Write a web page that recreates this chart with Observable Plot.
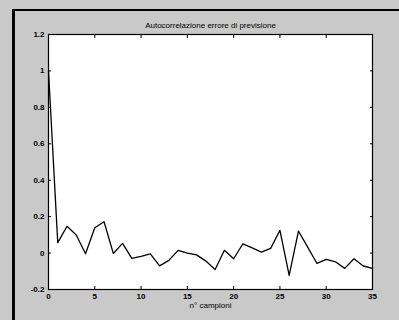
<!DOCTYPE html>
<html>
<head>
<meta charset="utf-8">
<script src="https://cdn.jsdelivr.net/npm/d3@7"></script>
<script src="https://cdn.jsdelivr.net/npm/@observablehq/plot@0.6"></script>
<style>
  html, body { margin: 0; padding: 0; }
  body {
    width: 399px; height: 320px; overflow: hidden; position: relative;
    background: #c9c9c9;
  }
  #frame {
    position: absolute; left: 12px; top: 9px; width: 387px; height: 311px;
    border-left: 3px solid #000; border-top: 2px solid #000; box-sizing: border-box;
  }
  #chart { position: absolute; left: 0; top: 0; }
  #chart svg { background: transparent !important; }
</style>
</head>
<body>
<div id="frame"></div>
<div id="chart"></div>
<script>
const title = "Autocorrelazione errore di previsione";
const xLabel = "n° campioni";
const lags = d3.range(0, 36);
const acf = [1.0, 0.057, 0.147, 0.099, -0.004, 0.139, 0.172, -0.002, 0.053, -0.029,
             -0.018, -0.004, -0.07, -0.04, 0.015, 0.0, -0.01, -0.044, -0.09, 0.015,
             -0.031, 0.051, 0.029, 0.005, 0.026, 0.125, -0.123, 0.121, 0.033, -0.057,
             -0.035, -0.048, -0.084, -0.031, -0.071, -0.084];
const xTicks = [0, 5, 10, 15, 20, 25, 30, 35];
const yTicks = [-0.2, 0, 0.2, 0.4, 0.6, 0.8, 1, 1.2];
const data = lags.map((l, i) => ({lag: l, r: acf[i]}));

const fontFam = "'Liberation Sans', Arial, sans-serif";
const plot = Plot.plot({
  width: 399, height: 320,
  marginLeft: 48, marginRight: 27, marginTop: 34, marginBottom: 31,
  style: {background: "transparent", fontFamily: fontFam, fontSize: "8px", color: "#000"},
  x: {domain: [0, 35], ticks: xTicks, label: null},
  y: {domain: [-0.2, 1.2], ticks: yTicks, label: null},
  marks: [
    Plot.frame({fill: "white", stroke: "none"}),
    Plot.line(data, {x: "lag", y: "r", stroke: "#000", strokeWidth: 1.3}),
    Plot.axisX({anchor: "bottom", ticks: xTicks, tickSize: -3, tickPadding: 7, tickFormat: d => String(d), fontSize: 8, fontWeight: "bold"}),
    Plot.axisX({anchor: "top", ticks: xTicks, tickSize: -3, tickFormat: () => ""}),
    Plot.axisY({anchor: "left", ticks: yTicks, tickSize: -3, tickPadding: 7, tickFormat: d => String(d), fontSize: 8, fontWeight: "bold"}),
    Plot.axisY({anchor: "right", ticks: yTicks, tickSize: -3, tickFormat: () => ""}),
    Plot.frame({stroke: "#000", strokeWidth: 1.2}),
    Plot.text([title], {frameAnchor: "top", dy: -12, text: d => d, fontSize: 8, fill: "#000"}),
    Plot.text([xLabel], {frameAnchor: "bottom", dy: 18, text: d => d, fontSize: 8, fill: "#000"})
  ]
});
document.getElementById("chart").appendChild(plot);
</script>
</body>
</html>
